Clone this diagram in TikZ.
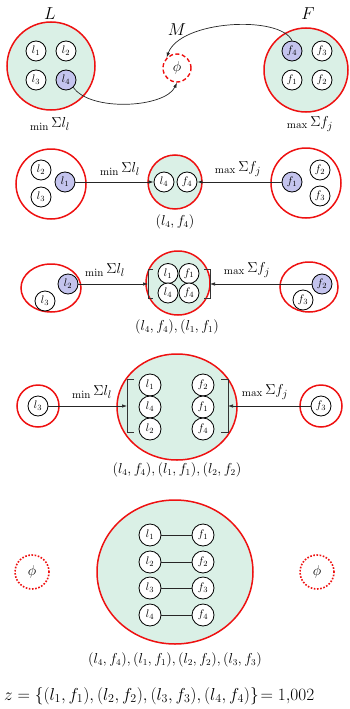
\documentclass[tikz,border=0pt]{standalone}
\usetikzlibrary{arrows.meta,shapes.geometric}
\definecolor{setgreen}{HTML}{DAF0E6}
\definecolor{lav}{HTML}{C4C4EE}
\definecolor{setred}{HTML}{EE1111}
\newsavebox\eqmeasurebox
\AtBeginDocument{%
  \sbox\eqmeasurebox{\fontsize{10}{12}\selectfont$z=\{(l_1,f_1),(l_2,f_2),(l_3,f_3),(l_4,f_4)\}$}%
  \pgfmathsetmacro\eqfontsize{10*289/\wd\eqmeasurebox}%
}
\begin{document}
\begin{tikzpicture}[x=1pt,y=-1pt,
  bigset/.style={circle,draw=setred,line width=1.5pt,inner sep=0pt},
  bigell/.style={ellipse,draw=setred,line width=1.5pt,inner sep=0pt},
  green/.style={fill=setgreen},
  item/.style={circle,draw=black,line width=0.8pt,fill=white,minimum size=20pt,inner sep=0pt,font=\fontsize{11}{13}\selectfont},
  sel/.style={item,fill=lav},
  bigitem/.style={item,minimum size=22pt},
  phiset/.style={circle,draw=setred,line width=1.4pt,inner sep=0pt,font=\fontsize{15}{17}\selectfont},
  title/.style={font=\fontsize{19}{21}\selectfont},
  cost/.style={font=\fontsize{15}{17}\selectfont},
  pairs/.style={font=\fontsize{13.5}{16}\selectfont},
  conn/.style={draw=black!85,line width=0.7pt},
  arr/.style={conn,-{Latex[length=5pt,width=3.5pt]}},
  brk/.style={draw=black!80,line width=0.6pt}]
\useasboundingbox (0,0) rectangle (350,709);
\newcommand{\mincost}{$_{\min}\,\Sigma l_l$}
\newcommand{\maxcost}{$_{\max}\,\Sigma f_j$}

% ---------------- Row 1 ----------------
\node[title] (tL) at (50,14) {$L$};
\node[title] (tM) at (177,30) {$M$};
\node[title] (tF) at (308,14) {$F$};
\node[bigset,green,minimum size=88pt] (L) at (51,66) {};
\node[item] (a1) at (36,51) {$l_1$};
\node[item] (a2) at (66,51) {$l_2$};
\node[item] (a3) at (36,80) {$l_3$};
\node[sel]  (a4) at (66,80) {$l_4$};
\node[bigset,green,minimum size=84pt] (F) at (306,70) {};
\node[sel]  (b4) at (292,51) {$f_4$};
\node[item] (b3) at (322,51) {$f_3$};
\node[item] (b1) at (292,80) {$f_1$};
\node[item] (b2) at (322,80) {$f_2$};
\node[phiset,dashed,dash pattern=on 4pt off 2.5pt,minimum size=28pt] (phi) at (177,68) {$\phi$};
\node[cost] (c1) at (50,124) {\mincost};
\node[cost] (c2) at (310,124) {\maxcost};
\draw[arr] (a4.south east) .. controls (90,112) and (165,108) .. (phi.south);
\draw[arr] (b4.north) .. controls (280,15) and (180,20) .. (phi.north west);

% ---------------- Row 2 ----------------
\node[bigset,minimum size=70pt] (L2) at (51,184) {};
\node[item] (d2) at (41,170) {$l_2$};
\node[item] (d3) at (41,197) {$l_3$};
\node[sel]  (d1) at (65,182) {$l_1$};
\node[bigset,green,minimum size=54pt] (M2) at (175,182) {};
\node[item] (m4l) at (164,182) {$l_4$};
\node[item] (m4f) at (187,182) {$f_4$};
\node[bigset,minimum size=70pt] (F2) at (306,183) {};
\node[sel]  (e1) at (292,182) {$f_1$};
\node[item] (e2) at (320,170) {$f_2$};
\node[item] (e3) at (320,196) {$f_3$};
\draw[arr] (d1) -- (m4l);
\draw[arr] (e1) -- (m4f);
\node[cost] (c3) at (120,169) {\mincost};
\node[cost] (c4) at (238,169) {\maxcost};
\node[pairs] (p2) at (175,222) {$(l_4,f_4)$};

% ---------------- Row 3 ----------------
\node[bigell,minimum width=60pt,minimum height=48pt] (L3) at (51,288) {};
\node[sel]  (g2) at (68,284) {$l_2$};
\node[item] (g3) at (45,301) {$l_3$};
\node[bigset,green,minimum size=64pt] (M3) at (178,283) {};
\node[item] (n1l) at (168,273.5) {$l_1$};
\node[item] (n4l) at (168,293) {$l_4$};
\node[item] (n1f) at (189,273.5) {$f_1$};
\node[item] (n4f) at (189,293) {$f_4$};
\draw[brk] (153,269) -- (148,269) -- (148,298) -- (153,298);
\draw[brk] (204,269) -- (210,269) -- (210,298) -- (204,298);
\coordinate (k3l) at (148,284);
\coordinate (k3r) at (210,284);
\node[bigell,minimum width=58pt,minimum height=50pt] (F3) at (309,287) {};
\node[sel]  (h2) at (322,284) {$f_2$};
\node[item] (h3) at (303,300) {$f_3$};
\draw[arr] (g2) -- (k3l);
\draw[arr] (h2) -- (k3r);
\node[cost] (c5) at (105,270) {\mincost};
\node[cost] (c6) at (247,270) {\maxcost};
\node[pairs] (p3) at (177,327) {$(l_4,f_4),(l_1,f_1)$};

% ---------------- Row 4 ----------------
\node[bigset,minimum size=42pt] (L4) at (38,406) {};
\node[item] (q3) at (38,406) {$l_3$};
\node[bigell,green,minimum width=120pt,minimum height=106pt] (M4) at (177,407) {};
\node[bigitem] (r1) at (150,385) {$l_1$};
\node[bigitem] (r4) at (150,407) {$l_4$};
\node[bigitem] (r2) at (150,429) {$l_2$};
\node[bigitem] (s2) at (203,385) {$f_2$};
\node[bigitem] (s1) at (203,407) {$f_1$};
\node[bigitem] (s4) at (203,429) {$f_4$};
\draw[brk] (134,379) -- (127,379) -- (127,432) -- (134,432);
\draw[brk] (221,379) -- (228,379) -- (228,432) -- (221,432);
\coordinate (k4l) at (127,406);
\coordinate (k4r) at (228,406);
\node[bigset,minimum size=42pt] (F4) at (321,406) {};
\node[item] (t3) at (321,406) {$f_3$};
\draw[arr] (q3) -- (k4l);
\draw[arr] (t3) -- (k4r);
\node[cost] (c7) at (92,392) {\mincost};
\node[cost] (c8) at (265,392) {\maxcost};
\node[pairs] (p4) at (177,470) {$(l_4,f_4),(l_1,f_1),(l_2,f_2)$};

% ---------------- Row 5 ----------------
\node[phiset,dotted,line width=1.6pt,dash pattern=on 1.6pt off 1.6pt,minimum size=34pt] (phiL) at (32,572) {$\phi$};
\node[phiset,dotted,line width=1.6pt,dash pattern=on 1.6pt off 1.6pt,minimum size=34pt] (phiR) at (317,572) {$\phi$};
\node[bigell,green,minimum width=156pt,minimum height=144pt] (M5) at (175,572) {};
\node[bigitem] (u1) at (150,535) {$l_1$};
\node[bigitem] (u2) at (150,562) {$l_2$};
\node[bigitem] (u3) at (150,588) {$l_3$};
\node[bigitem] (u4) at (150,615) {$l_4$};
\node[bigitem] (v1) at (203,535) {$f_1$};
\node[bigitem] (v2) at (203,562) {$f_2$};
\node[bigitem] (v3) at (203,588) {$f_3$};
\node[bigitem] (v4) at (203,615) {$f_4$};
\draw[conn] (u1) -- (v1);
\draw[conn] (u2) -- (v2);
\draw[conn] (u3) -- (v3);
\draw[conn] (u4) -- (v4);
\node[pairs] (p5) at (175,660) {$(l_4,f_4),(l_1,f_1),(l_2,f_2),(l_3,f_3)$};

% ---------------- Equation ----------------
\node[anchor=base west,inner sep=0pt,font=\fontsize{\eqfontsize}{\eqfontsize}\selectfont] (eq) at (4,700)
  {$z=\{(l_1,f_1),(l_2,f_2),(l_3,f_3),(l_4,f_4)\}\!=1{,}002$};
\end{tikzpicture}
\end{document}
